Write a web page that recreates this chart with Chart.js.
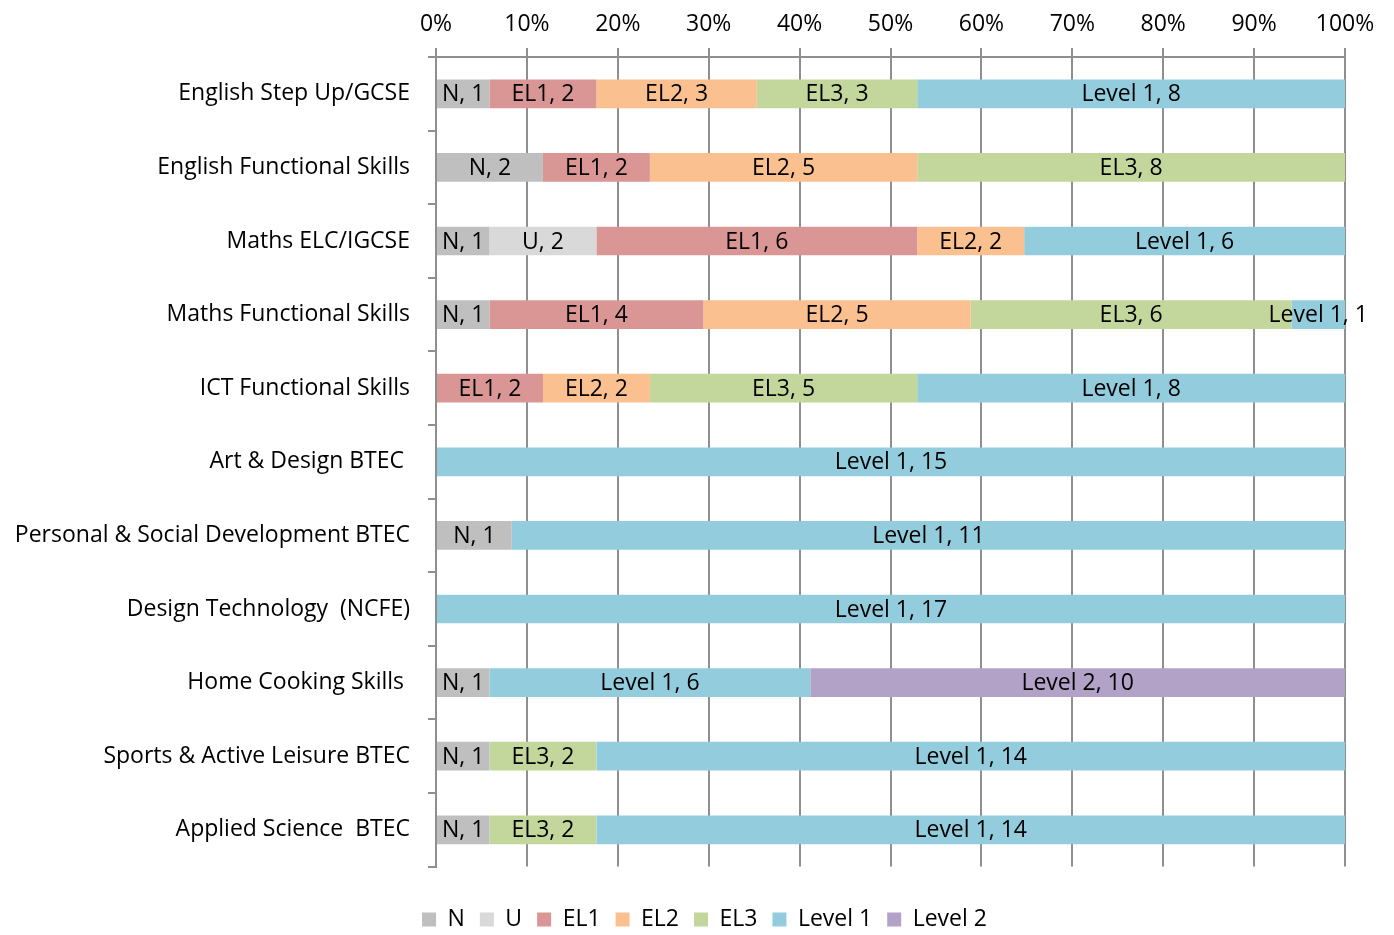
<!DOCTYPE html>
<html>
<head>
<meta charset="utf-8">
<script src="https://cdn.jsdelivr.net/npm/chart.js@4/dist/chart.umd.min.js"></script>
<style>
  html, body { margin: 0; padding: 0; background: #fff; }
  #wrap { width: 1394px; height: 935px; }
</style>
</head>
<body>
<div id="wrap"><canvas id="grafico"></canvas></div>
<script>
// Cursos (eje vertical)
const cursos = [
  'English Step Up/GCSE',
  'English Functional Skills',
  'Maths ELC/IGCSE',
  'Maths Functional Skills',
  'ICT Functional Skills',
  'Art & Design BTEC ',
  'Personal & Social Development BTEC',
  'Design Technology  (NCFE)',
  'Home Cooking Skills ',
  'Sports & Active Leisure BTEC',
  'Applied Science  BTEC'
];

// Número de alumnos por nivel
const nivelN      = [1, 2, 1, 1, 0, 0, 1, 0, 1, 1, 1];
const nivelU      = [0, 0, 2, 0, 0, 0, 0, 0, 0, 0, 0];
const nivelEL1    = [2, 2, 6, 4, 2, 0, 0, 0, 0, 0, 0];
const nivelEL2    = [3, 5, 2, 5, 2, 0, 0, 0, 0, 0, 0];
const nivelEL3    = [3, 8, 0, 6, 5, 0, 0, 0, 0, 2, 2];
const nivelLevel1 = [8, 0, 6, 1, 8, 15, 11, 17, 6, 14, 14];
const nivelLevel2 = [0, 0, 0, 0, 0, 0, 0, 0, 10, 0, 0];

const ticksX = [0, 10, 20, 30, 40, 50, 60, 70, 80, 90, 100];

const series = [
  { nombre: 'N',       datos: nivelN,      color: '#BFBFBF' },
  { nombre: 'U',       datos: nivelU,      color: '#D9D9D9' },
  { nombre: 'EL1',     datos: nivelEL1,    color: '#D99694' },
  { nombre: 'EL2',     datos: nivelEL2,    color: '#FAC090' },
  { nombre: 'EL3',     datos: nivelEL3,    color: '#C3D69B' },
  { nombre: 'Level 1', datos: nivelLevel1, color: '#93CDDD' },
  { nombre: 'Level 2', datos: nivelLevel2, color: '#B3A2C7' }
];

const fuente = "'Open Sans', 'Liberation Sans', sans-serif";
const tam = 23;
const gris = '#8f8f8f';

// totales por curso para el 100% apilado
const totales = cursos.map((c, i) => series.reduce((s, serie) => s + serie.datos[i], 0));

const datasets = series.map(serie => ({
  label: serie.nombre,
  data: serie.datos.map((v, i) => v / totales[i] * 100),
  cuentas: serie.datos,
  backgroundColor: serie.color,
  borderWidth: 0,
  barPercentage: 0.39,
  categoryPercentage: 1
}));

// etiquetas "N, 1" en cada segmento
const etiquetas = {
  id: 'etiquetas',
  afterDatasetsDraw(chart) {
    const ctx = chart.ctx;
    ctx.save();
    ctx.font = tam + 'px ' + fuente;
    ctx.fillStyle = '#000';
    ctx.textAlign = 'center';
    ctx.textBaseline = 'middle';
    chart.data.datasets.forEach((ds, d) => {
      const meta = chart.getDatasetMeta(d);
      meta.data.forEach((bar, i) => {
        const n = ds.cuentas[i];
        if (!n) return;
        const x = (bar.x + bar.base) / 2;
        ctx.fillText(ds.label + ', ' + n, x, bar.y + 1);
      });
    });
    ctx.restore();
  }
};

// centrar la leyenda un poco más a la derecha
const moverLeyenda = {
  id: 'moverLeyenda',
  afterLayout(chart) {
    if (chart.legend) chart.legend.left = 64;
  }
};

const ctx = document.getElementById('grafico').getContext('2d');
new Chart(ctx, {
  type: 'bar',
  data: { labels: cursos, datasets: datasets },
  plugins: [etiquetas, moverLeyenda],
  options: {
    indexAxis: 'y',
    responsive: true,
    maintainAspectRatio: false,
    animation: false,
    layout: { padding: { top: 0, right: 49, bottom: -6, left: 0 } },
    scales: {
      x: {
        position: 'top',
        stacked: true,
        min: 0,
        max: 100,
        afterBuildTicks(scale) { scale.ticks = ticksX.map(v => ({ value: v })); },
        afterFit(scale) { scale.height = 57; },
        ticks: {
          callback: v => v + '%',
          color: '#000',
          font: { family: fuente, size: tam },
          padding: 10
        },
        grid: { color: gris, lineWidth: 2, tickLength: 9 },
        border: { color: gris, width: 2 }
      },
      y: {
        stacked: true,
        afterFit(scale) { scale.width = 436; },
        ticks: {
          color: '#000',
          font: { family: fuente, size: tam },
          padding: 18
        },
        grid: { offset: true, drawOnChartArea: false, color: gris, lineWidth: 2, tickLength: 8 },
        border: { color: gris, width: 2 }
      }
    },
    plugins: {
      tooltip: { enabled: false },
      legend: {
        position: 'bottom',
        title: { display: true, text: ' ', font: { size: 2 }, padding: { top: 24, bottom: 0 } },
        labels: {
          color: '#000',
          font: { family: fuente, size: tam },
          boxWidth: 14,
          boxHeight: 14,
          padding: 15
        }
      }
    }
  }
});
</script>
</body>
</html>
